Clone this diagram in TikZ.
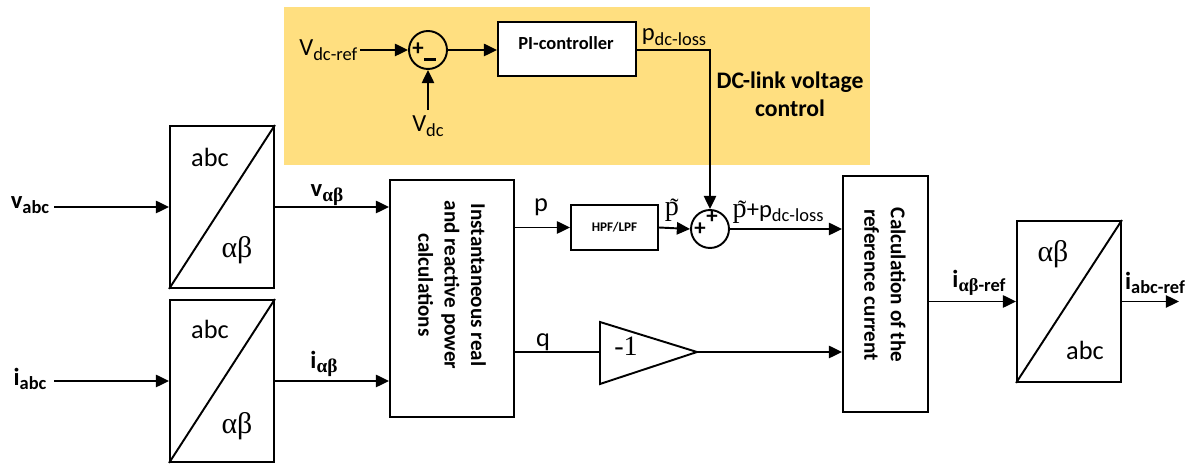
\documentclass[tikz,border=0pt]{standalone}
\usepackage{amsmath}
\usepackage{fontspec}
\setmainfont{Carlito}
\newfontfamily\serifgr{Liberation Serif}
\usetikzlibrary{arrows.meta}
\definecolor{bgyellow}{RGB}{255,223,128}
\newcommand{\sublab}[3][\mdseries]{{#1\fontsize{14}{14}\selectfont #2}{#1\fontsize{10.5}{10.5}\selectfont\raisebox{-2.5pt}{#3}}}
\newcommand{\ptil}{{\serifgr\fontsize{16}{16}\selectfont p\llap{\raisebox{-0.3pt}{\fontsize{14}{14}\selectfont\char"02DC\kern0.2pt}}}}
\begin{document}
\begin{tikzpicture}[x=0.02cm,y=-0.02cm,line width=1.1pt,
  >={Triangle[length=7.5pt,width=7pt]},
  blk/.style={draw,fill=white,inner sep=0pt},
  sumc/.style={draw,circle,inner sep=0pt,minimum size=0.76cm},
  lbl/.style={inner sep=1pt},
  conv/.style={draw,inner sep=0pt,minimum width=2.08cm,minimum height=3.24cm},
  convtxt/.style={inner sep=0pt,font=\fontsize{15}{15}\selectfont},
  grk/.style={inner sep=0pt,font=\serifgr\fontsize{17}{17}\selectfont},
  rottxt/.style={rotate=-90,align=center,inner sep=0pt,font=\bfseries\fontsize{12}{15}\selectfont},
  pm/.style={inner sep=0pt,font=\bfseries\fontsize{13}{13}\selectfont}]
\useasboundingbox (0,0) rectangle (1191,465);
\fill[bgyellow] (284,7) rectangle (870,165);

% DC-link voltage control
\node[lbl,anchor=east] (vdcref) at (360,50) {\sublab{V}{dc-ref}};
\node[sumc] (s1) at (428,50) {};
\node[lbl] (vdc) at (428,126) {\sublab{V}{dc}};
\coordinate (vdcin) at (428,110);
\node[blk,minimum width=2.76cm,minimum height=1.08cm] (pi) at (567,49) {};
\node[inner sep=0pt,font=\bfseries\fontsize{10.5}{10.5}\selectfont] (pitxt) at (566,43) {PI-controller};
\node[lbl] (pdcl) at (674,37) {\sublab{p}{dc-loss}};
\node[inner sep=0pt,align=center,font=\bfseries\fontsize{13.5}{16}\selectfont] (dctxt) at (790,94) {DC-link voltage\\control};

\draw[->] (vdcref.east) -- (s1.west);
\draw[->] (vdcin) -- (s1.south);
\draw[->] (s1.east) -- (s1.east -| pi.west);
\node[pm] (s1p) at (418,49) {+};
\node[pm] (s1m) at (430,61) {\rule[2pt]{6.5pt}{1.8pt}};

% Converters left
\node[conv] (c1) at (222,207) {};
\draw (c1.south west) -- (c1.north east);
\node[convtxt] (c1a) at (210,157) {abc};
\node[grk] (c1b) at (237,250) {αβ};
\node[conv] (c2) at (222,381) {};
\draw (c2.south west) -- (c2.north east);
\node[convtxt] (c2a) at (210,329) {abc};
\node[grk] (c2b) at (237,426) {αβ};

\node[lbl] (vabc) at (30,205) {\sublab[\bfseries]{v}{abc}};
\node[lbl] (iabc) at (30,379) {\sublab[\bfseries]{i}{abc}};
\coordinate (vin) at (54,207);
\coordinate (iin) at (54,381);
\draw[->] (vin) -- (c1.west);
\draw[->] (iin) -- (c2.west);

% Instantaneous power block
\node[blk,minimum width=2.48cm,minimum height=4.74cm] (inst) at (452,298.5) {};
\node[rottxt] (insttxt) at (452,285) {Instantaneous real\\and reactive power\\calculations};
\draw[->] (c1.east) -- (c1.east -| inst.west);
\draw[->] (c2.east) -- (c2.east -| inst.west);
\node[lbl] (valab) at (327,195) {{\bfseries\fontsize{14}{14}\selectfont v}{\serifgr\bfseries\fontsize{11}{11}\selectfont\raisebox{-2.5pt}{αβ}}};
\node[lbl] (ialab) at (324,364) {{\bfseries\fontsize{14}{14}\selectfont i}{\serifgr\bfseries\fontsize{11}{11}\selectfont\raisebox{-2.5pt}{αβ}}};

% HPF/LPF and summation
\node[blk,minimum width=1.74cm,minimum height=0.9cm,font=\bfseries\fontsize{7.5}{7.5}\selectfont] (hpf) at (614.5,227.5) {HPF/LPF};
\node[sumc] (s2) at (710,229) {};
\draw[->] (hpf.west -| inst.east) -- (hpf.west);
\draw[->] (hpf.east) -- (s2.west);
\draw[->] (pi.east |- s1.east) -- (s1.east -| s2.north) -- (s2.north);
\node[pm] (s2a) at (712,217) {+};
\node[pm] (s2b) at (700,229) {+};
\node[lbl] (plab) at (541,207) {\fontsize{15}{15}\selectfont p};
\node[lbl] (ptlab) at (672,210) {\ptil};
\node[lbl,anchor=west] (psum) at (730,212) {\ptil{\fontsize{14}{14}\selectfont +p}{\fontsize{10.5}{10.5}\selectfont\raisebox{-2.5pt}{dc-loss}}};

% Gain
\coordinate (gin) at (600,352);
\coordinate (gout) at (697,352);
\draw (gin) -- (600,322) -- (gout) -- (600,384) -- cycle;
\node[inner sep=0pt,font=\serifgr\fontsize{16}{16}\selectfont] (gtxt) at (626,346) {-1};
\node[lbl] (qlab) at (543,342) {\fontsize{15}{15}\selectfont q};

% Calculation of reference current
\node[blk,minimum width=1.7cm,minimum height=4.72cm] (calc) at (885.5,294) {};
\node[rottxt] (calctxt) at (885,285) {Calculation of the\\reference current};
\draw[->] (s2.east) -- (s2.east -| calc.west);
\draw (gin -| inst.east) -- (gin);
\draw[->] (gout) -- (gout -| calc.west);

% Right converter
\node[draw,inner sep=0pt,minimum width=2.08cm,minimum height=3.22cm] (c3) at (1069,301.5) {};
\draw (c3.south west) -- (c3.north east);
\node[grk] (c3a) at (1053,254) {αβ};
\node[convtxt] (c3b) at (1085,350) {abc};
\draw[->] (calc.east |- c3.west) -- (c3.west);
\coordinate (iout) at (1179,301.5);
\draw[->] (c3.east) -- (iout);
\node[lbl] (irlab) at (979,283) {{\bfseries\fontsize{14}{14}\selectfont i}{\bfseries\fontsize{10.5}{10.5}\selectfont\raisebox{-2.5pt}{{\serifgr αβ}-ref}}};
\node[lbl] (iarlab) at (1155,283) {\sublab[\bfseries]{i}{abc-ref}};
\end{tikzpicture}
\end{document}
